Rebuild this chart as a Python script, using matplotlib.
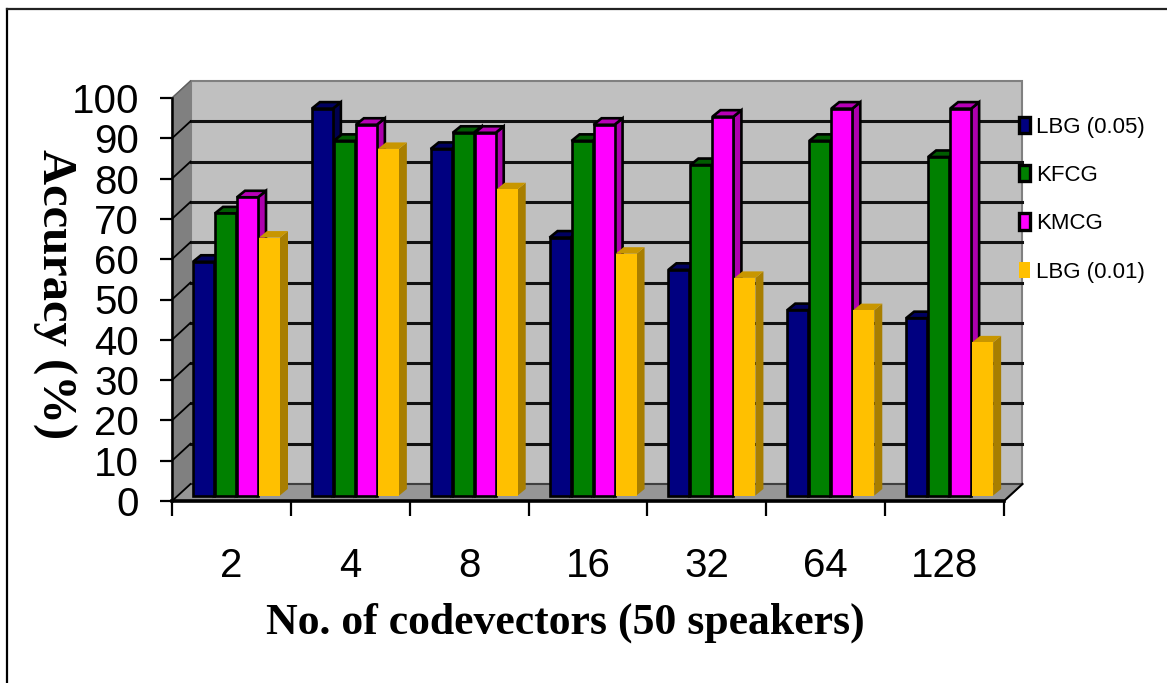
import matplotlib
matplotlib.use("Agg")
import matplotlib.pyplot as plt
import numpy as np
from matplotlib.patches import Polygon, Patch
from matplotlib.lines import Line2D

categories = ["2", "4", "8", "16", "32", "64", "128"]
lbg_005 = [58, 96, 86, 64, 56, 46, 44]
kfcg = [70, 88, 90, 88, 82, 88, 84]
kmcg = [74, 92, 90, 92, 94, 96, 96]
lbg_001 = [64, 86, 76, 60, 54, 46, 38]
y_ticks = [0, 10, 20, 30, 40, 50, 60, 70, 80, 90, 100]
names = ["LBG (0.05)", "KFCG", "KMCG", "LBG (0.01)"]

W, H = 1167, 683
X0, X1, Y0, Y100 = 172, 1004, 501, 98
PX = 7 / (X1 - X0)  # data units per pixel
PY = 100 / (Y0 - Y100)

fig = plt.figure(figsize=(W / 100, H / 100), dpi=100)
ax = fig.add_axes([X0 / W, 1 - Y0 / H, (X1 - X0) / W, (Y0 - Y100) / H])
ax.set_xlim(0, 7)
ax.set_ylim(0, 100)
ax.patch.set_visible(False)

# walls of the fake 3d box
dx, dy = 18.5 * PX, 17 * PY
ax.add_patch(Polygon([(dx, dy), (7 + dx, dy), (7 + dx, 100 + dy), (dx, 100 + dy)],
                     fc="#C0C0C0", ec="#808080", lw=1.5, clip_on=False, zorder=1))
ax.add_patch(Polygon([(0, 0), (dx, dy), (dx, 100 + dy), (0, 100)],
                     fc="#808080", ec="#808080", lw=1, clip_on=False, zorder=1))
ax.add_patch(Polygon([(0, 0), (7, 0), (7 + dx, dy), (dx, dy)],
                     fc="#969696", ec="#969696", lw=1, clip_on=False, zorder=1))

for v in y_ticks[1:-1]:
    ax.plot([dx, 7 + dx], [v + dy, v + dy], color="#111111", lw=2.2, clip_on=False, zorder=2)
ax.plot([dx, 7 + dx], [dy, dy], color="#404040", lw=1.5, clip_on=False, zorder=2)
for v in y_ticks[:-1]:
    ax.plot([0, dx], [v, v + dy], color="black", lw=1.3, clip_on=False, zorder=2)
ax.plot([0, dx], [100, 100 + dy], color="#606060", lw=1, clip_on=False, zorder=2)
ax.plot([7, 7 + dx], [0, dy], color="black", lw=1.5, clip_on=False, zorder=2)

# bars, left to right so the next front hides the side of the previous one
series = [lbg_005, kfcg, kmcg, lbg_001]
front = ["#000080", "#008000", "#FF00FF", "#FFC000"]
side = ["#000050", "#004D00", "#AD00AD", "#A87E00"]
top = ["#000060", "#005C00", "#B800B8", "#C89600"]
edges = ["black", "black", "black", "none"]
lift = 5.5 * PY
off = 21 * PX
step = 22 * PX
bw = 21 * PX
ddx, ddy = 8 * PX, 6.5 * PY

z = 3
for g in range(len(categories)):
    for s in range(4):
        left = g + off + s * step
        v = series[s][g]
        h = v + lift
        lw = 1.9 if edges[s] != "none" else 0
        ax.add_patch(Polygon([(left + bw, lift), (left + bw + ddx, lift + ddy),
                              (left + bw + ddx, h + ddy), (left + bw, h)],
                             fc=side[s], ec=edges[s], lw=lw, clip_on=False, zorder=z))
        ax.add_patch(Polygon([(left, h), (left + ddx, h + ddy),
                              (left + bw + ddx, h + ddy), (left + bw, h)],
                             fc=top[s], ec=edges[s], lw=lw, clip_on=False, zorder=z))
        ax.bar(left, v, bottom=lift, width=bw, align="edge", color=front[s],
               edgecolor=edges[s], linewidth=lw, clip_on=False, zorder=z)
        z += 1

# axes
for sp in ["top", "right"]:
    ax.spines[sp].set_visible(False)
ax.spines["bottom"].set_linewidth(2.6)
ax.spines["left"].set_linewidth(1.8)
for sp in ["bottom", "left"]:
    ax.spines[sp].set_zorder(50)

ax.set_yticks(y_ticks)
ax.set_yticklabels([str(v) for v in y_ticks], family="Liberation Sans", fontsize=29)
ax.tick_params(axis="y", length=8.6, width=1.6, pad=15)
ax.set_xticks(np.arange(8))
ax.set_xticklabels([])
ax.tick_params(axis="x", which="major", length=10.8, width=1.6)
ax.set_xticks(np.arange(7) + 0.5, minor=True)
ax.set_xticklabels(categories, minor=True, family="Liberation Sans", fontsize=29)
ax.tick_params(axis="x", which="minor", length=0, pad=33)

fig.text(565 / W, 1 - 623 / H, "No. of codevectors (50 speakers)", family="Liberation Serif",
         weight="bold", fontsize=31.5, ha="center", va="center")
fig.text(54 / W, 1 - 294 / H, "Accuracy (%)", family="Liberation Serif",
         weight="bold", fontsize=35, rotation=270, ha="center", va="center")

# legend
handles = [Patch(fc=c, ec=e, lw=2.4) for c, e in zip(front, edges)]
leg = fig.legend(handles, names, loc="center left", bbox_to_anchor=(1019 / W, 1 - 199.5 / H),
                 frameon=False, prop={"family": "Liberation Sans", "size": 16},
                 handlelength=0.5, handleheight=0.75, handletextpad=0.25,
                 labelspacing=1.23, borderpad=0, borderaxespad=0)
leg.set_zorder(60)

# outer frame, only left and top are in the picture
fig.add_artist(Line2D([6.5 / W, 6.5 / W], [0, 1 - 8.5 / H], color="black", lw=1.6))
fig.add_artist(Line2D([6.5 / W, 1], [1 - 8.5 / H, 1 - 8.5 / H], color="#222222", lw=1.6))

fig.savefig("out.png", dpi=100)
